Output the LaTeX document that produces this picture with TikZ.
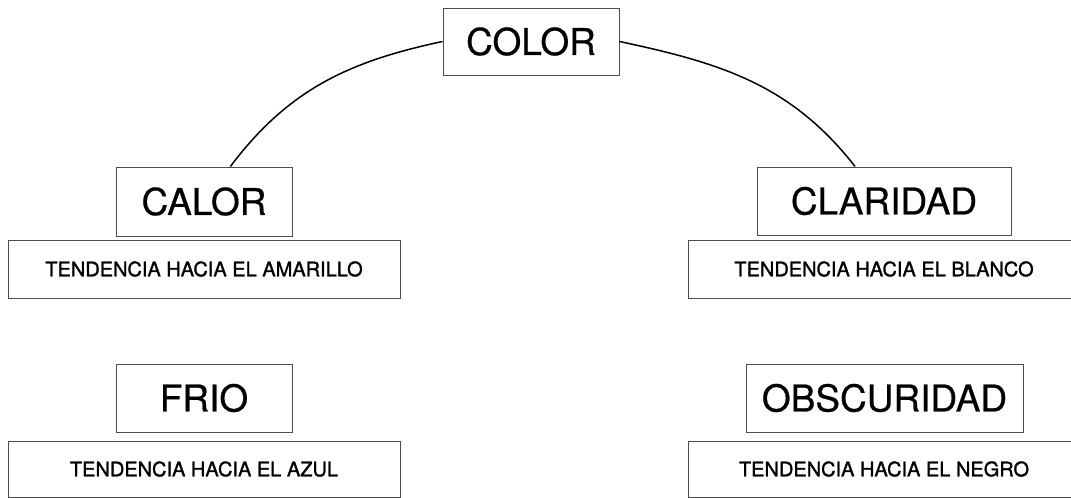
\documentclass[tikz,border=0pt]{standalone}
\usepackage{fontspec}
\setmainfont{TeX Gyre Heros}
\newfontfamily\conceptfont{TeX Gyre Heros}[FakeBold=0.6]
\newfontfamily\trendfont{TeX Gyre Heros}[FakeBold=1.3]
\begin{document}
\begin{tikzpicture}[x=1pt,y=1pt,
  concept/.style={draw=black!70, line width=1pt, fill=white, inner sep=0pt,
    minimum height=68pt, font=\conceptfont\fontsize{37}{40}\selectfont},
  trend/.style={draw=black!70, line width=1pt, fill=white, inner sep=0pt,
    minimum width=392pt, minimum height=58pt, font=\trendfont\fontsize{20}{24}\selectfont},
  link/.style={draw=black, line width=1.5pt}]
\useasboundingbox (0,0) rectangle (1071,-498);
\clip (0,0) rectangle (1071,-498);

% main concept
\node[concept, minimum width=176pt, minimum height=67pt] (color) at (531,-41.5) {COLOR};

% warm / cold column
\node[concept, minimum width=176pt, minimum height=69pt] (calor) at (204,-201.5) {CALOR};
\node[trend] (amarillo) at (204,-269) {TENDENCIA HACIA EL AMARILLO};
\node[concept, minimum width=176pt] (frio) at (204,-398) {FRIO};
\node[trend, minimum height=56pt] (azul) at (204,-469) {TENDENCIA HACIA EL AZUL};

% light / dark column
\node[concept, minimum width=254pt] (claridad) at (884,-201) {CLARIDAD};
\node[trend] (blanco) at (884,-269) {TENDENCIA HACIA EL BLANCO};
\node[concept, minimum width=277pt] (obscuridad) at (884.5,-398) {OBSCURIDAD};
\node[trend, minimum height=56pt] (negro) at (884,-469) {TENDENCIA HACIA EL NEGRO};

% arcs from the main concept
\draw[link] (color.west) to[out=192, in=53] (calor.53);
\draw[link] (color.east) to[out=-12, in=128] (claridad.130);
\end{tikzpicture}
\end{document}
